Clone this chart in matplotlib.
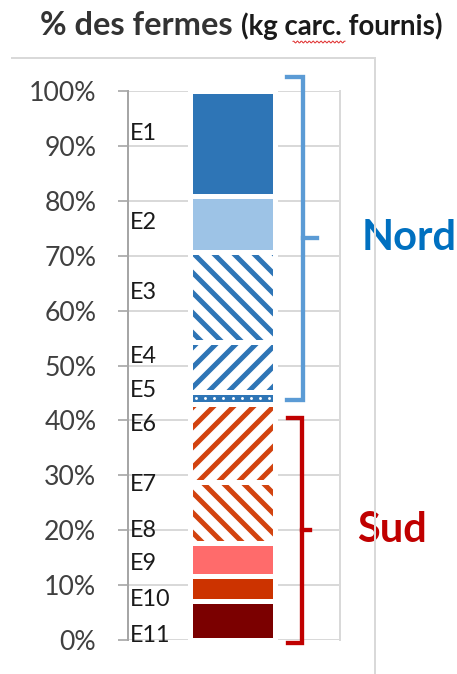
import numpy as np
import matplotlib.pyplot as plt
from matplotlib.lines import Line2D

plt.rcParams['font.family'] = ['Lato', 'DejaVu Sans']
plt.rcParams['hatch.linewidth'] = 3.0

# ==========================================
# DATA (stack order: top to bottom)
# ==========================================
groups = ['E1', 'E2', 'E3', 'E4', 'E5', 'E6', 'E7', 'E8', 'E9', 'E10', 'E11']
shares = [19.2, 10.1, 16.4, 9.2, 2.2, 14.1, 0.0, 11.2, 5.9, 4.6, 7.1]
label_pos = [92.3, 76.0, 63.3, 51.6, 45.5, 39.2, 28.4, 20.0, 14.0, 7.3, 0.9]
regions = ['Nord', 'Sud']
region_span = [(43.7, 102.6), (-0.5, 40.4)]
yticks = list(range(0, 101, 10))

# fill colour, hatch pattern (None = solid)
styles = [
    ('#2E75B6', None),
    ('#9DC3E6', None),
    ('#2E75B6', '\\\\'),
    ('#2E75B6', '//'),
    ('#2E75B6', 'dots'),
    ('#D2430F', '//'),
    ('#D2430F', '\\\\'),
    ('#D2430F', '\\\\'),
    ('#FF6B6B', None),
    ('#CC3300', None),
    ('#7B0000', None),
]
region_colors = [('#5B9BD5', '#0070C0'), ('#C00000', '#C00000')]

# ==========================================
# FIGURE
# ==========================================
W, H, DPI = 457, 674, 120
fig = plt.figure(figsize=(W / DPI, H / DPI), dpi=DPI)
ax = fig.add_axes([128 / W, 1 - 640 / H, 212 / W, 549 / H])

xc, bw = 0.493, 0.405
bottoms = 100 - np.cumsum(shares)

for val, bot, (col, hatch) in zip(shares, bottoms, styles):
    if hatch is None:
        ax.bar(xc, val, bw, bottom=bot, color=col, linewidth=0)
    elif hatch == 'dots':
        # solid band with a row of small white dots
        ax.bar(xc, val, bw, bottom=bot, color=col, linewidth=0)
        dx = np.linspace(xc - bw / 2 + 0.03, xc + bw / 2 - 0.03, 9)
        ax.scatter(dx, np.full(dx.size, bot + val / 2), s=3, color='white',
                   linewidths=0, zorder=3)
    else:
        ax.bar(xc, val, bw, bottom=bot, facecolor='white', edgecolor=col,
               hatch=hatch, linewidth=0)
    # white separator around each segment
    ax.bar(xc, val, bw, bottom=bot, facecolor='none', edgecolor='white', linewidth=3)

# E labels next to the axis
for name, yp in zip(groups, label_pos):
    ax.text(0.01, yp, name, ha='left', va='center', fontsize=14, color='#1A1A1A')

# brackets + region names
yx = ax.get_yaxis_transform()
bx = [(0.825, 0.75, 0.89, 1.1), (0.82, 0.755, 0.86, 1.083)]
for reg, (y0, y1), (x, xin, xmid, xt), (lc, tc) in zip(regions, region_span, bx, region_colors):
    ax.plot([xin, x, x, xin], [y1, y1, y0, y0], color=lc, lw=2.6,
            transform=yx, clip_on=False, solid_joinstyle='miter')
    ym = (y0 + y1) / 2
    ax.plot([x, xmid], [ym, ym], color=lc, lw=2.6, transform=yx, clip_on=False)
    ax.text(xt, ym, reg, transform=yx, ha='left', va='center',
            fontsize=25, fontweight='bold', color=tc)

ax.set_xlim(0, 1)
ax.set_ylim(0, 100)
ax.set_xticks([])
ax.set_yticks(yticks)
ax.set_yticklabels([f'{t}%' for t in yticks])
ax.tick_params(axis='y', length=6, width=1, color='#A6A6A6', pad=13,
               labelsize=16, labelcolor='#404040')
ax.yaxis.grid(True, color='#D9D9D9', lw=1.2)
ax.set_axisbelow(True)
for s in ['top', 'bottom']:
    ax.spines[s].set_visible(False)
ax.spines['right'].set_color('#D9D9D9')
ax.spines['right'].set_linewidth(1.2)
ax.spines['left'].set_color('#A6A6A6')
ax.spines['left'].set_linewidth(1.2)

# title
fig.text(40 / W, 1 - 35 / H, '% des fermes', fontsize=19.5, fontweight='bold',
         color='#333333', va='baseline', ha='left')
fig.text(241 / W, 1 - 35 / H, '(kg carc. fournis)', fontsize=16.6, fontweight='bold',
         color='#1A1A1A', va='baseline', ha='left')
sx = np.linspace(293, 345, 60)
fig.add_artist(Line2D(sx / W, 1 - (42 + 1.0 * np.sin(sx * 1.6)) / H,
                      color='#E03030', lw=0.6))

# outer frame lines
fig.add_artist(Line2D([12 / W, 375 / W], [1 - 58 / H, 1 - 58 / H], color='#D9D9D9', lw=1.2))
fig.add_artist(Line2D([375 / W, 375 / W], [1 - 58 / H, 0], color='#D9D9D9', lw=1.2))

fig.savefig('out.png', dpi=DPI)
